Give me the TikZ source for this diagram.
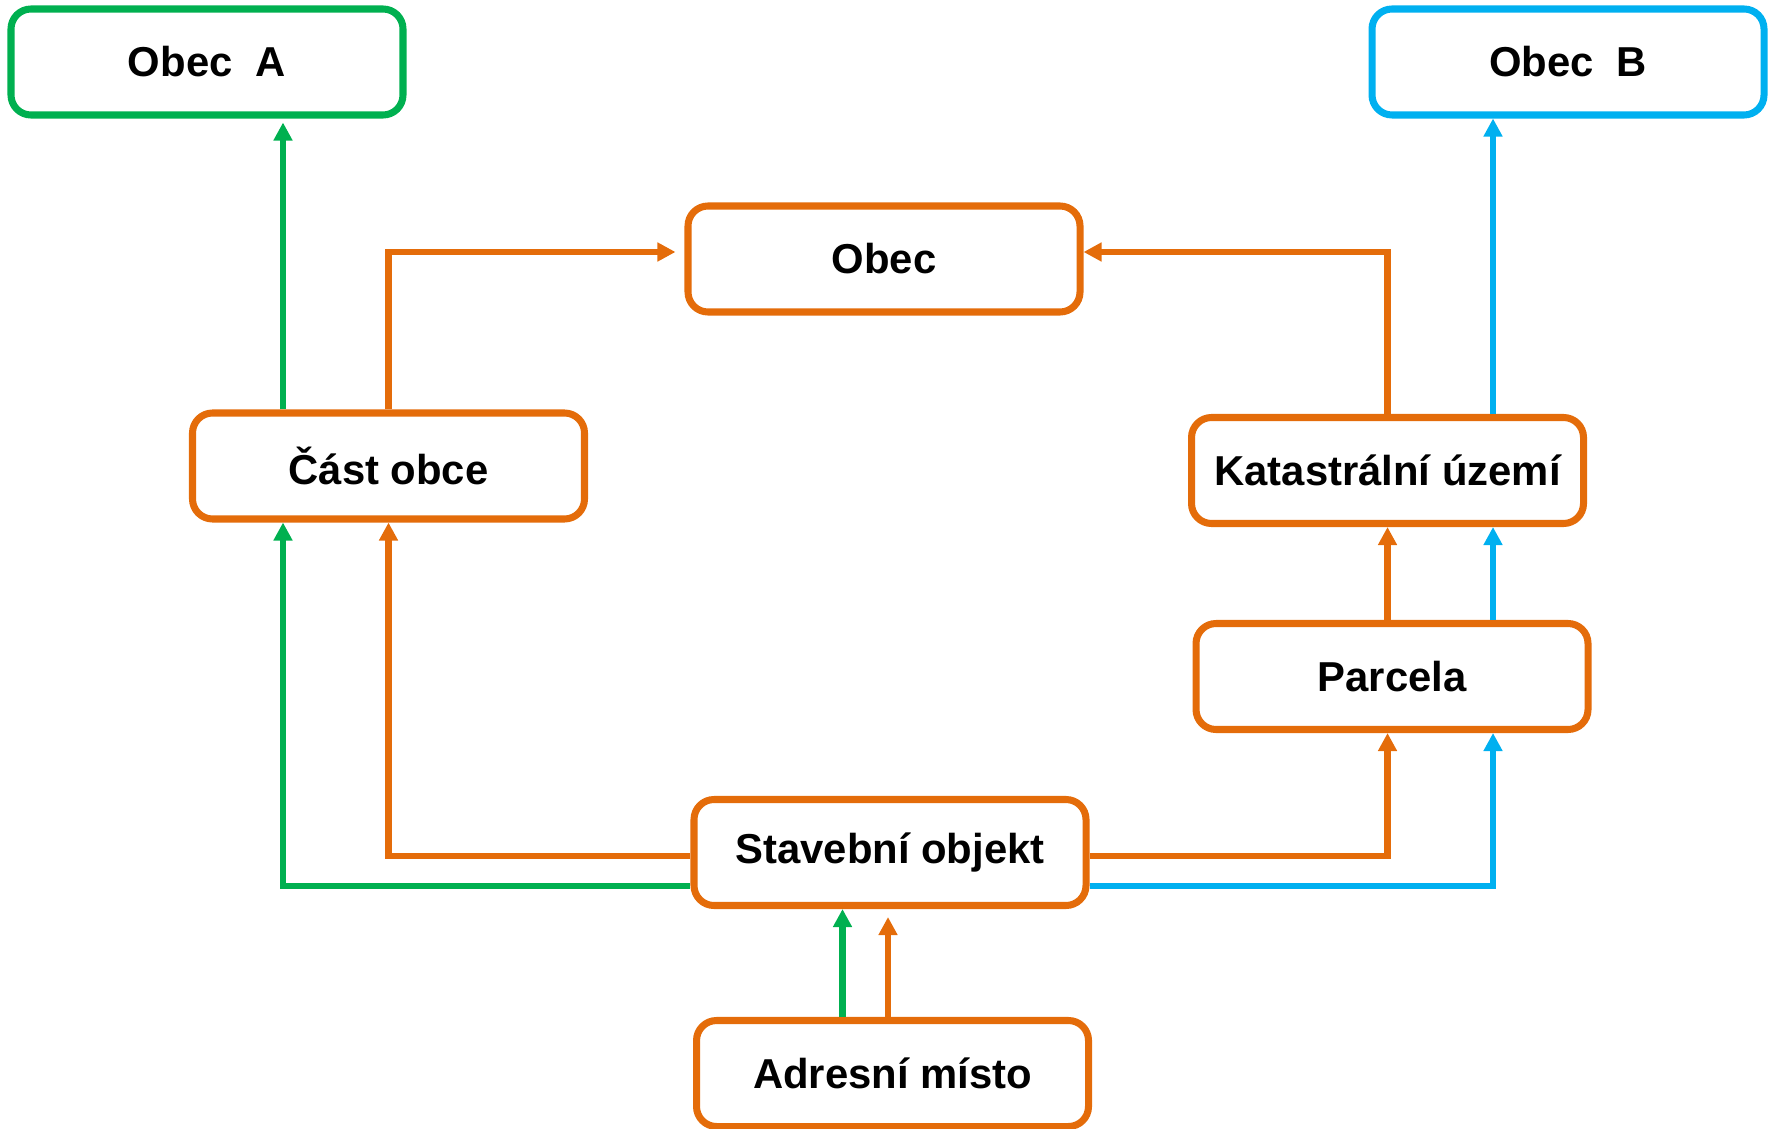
\documentclass[tikz,border=0pt]{standalone}
\usepackage{fontspec}
\setmainfont{Liberation Sans}
\usepackage{xcolor}
\usepackage{tikz}
\usetikzlibrary{calc,arrows.meta}
\definecolor{ruianorange}{HTML}{E46C0A}
\definecolor{ruiangreen}{HTML}{00B050}
\definecolor{ruianblue}{HTML}{00B0F0}
\tikzset{
  entity/.style={draw=ruianorange, line width=2pt, rounded corners=2mm, fill=white,
    minimum width=3.92cm, minimum height=1.06cm, inner sep=0pt,
    font=\fontsize{11.9}{14}\selectfont\bfseries},
  obecbox/.style={entity, draw=#1},
  link/.style={draw=#1, line width=1.75pt, -{Triangle[length=1.8mm,width=1.8mm]}},
}

\begin{document}
\begin{tikzpicture}
  \useasboundingbox (0,0) rectangle (17.85,11.28);

  \node[obecbox=ruiangreen] (obecA) at (2.07,10.66) {Obec\ \ A};
  \node[obecbox=ruianblue]  (obecB) at (15.68,10.66) {Obec\ \ B};
  \node[entity] (obec) at (8.84,8.69) {Obec};
  \node[entity] (cast) at (3.885,6.62) {Část obce};
  \node[entity] (kat)  at (13.875,6.575) {Katastrální území};
  \node[entity] (parc) at (13.92,4.515) {Parcela};
  \node[entity] (stav) at (8.90,2.755) {Stavební objekt};
  \node[entity] (adr)  at (8.925,0.545) {Adresní místo};

  % bus lines
  \coordinate (busG) at (2.83,2.42);
  \coordinate (busB) at (14.93,2.42);
  \coordinate (busO) at (0,2.72);
  \coordinate (busT) at (0,8.76);

  % to obec
  \draw[link=ruianorange, shorten >=0.9mm] (cast.north) |- (obec.west |- busT);
  \draw[link=ruianorange] (kat.north) |- (obec.east |- busT);

  % to obec A / obec B
  \draw[link=ruiangreen, shorten >=0.4mm] (cast.north -| busG) -- (obecA.south -| busG);
  \draw[link=ruianblue] (kat.north -| busB) -- (obecB.south -| busB);

  % from stavebni objekt
  \draw[link=ruiangreen] (stav.west |- busG) -| (cast.south -| busG);
  \draw[link=ruianorange] (stav.west |- busO) -| (cast.south);
  \draw[link=ruianorange] (stav.east |- busO) -| (parc.south -| kat.south);
  \draw[link=ruianblue] (stav.east |- busB) -| (parc.south -| busB);

  % parcela
  \draw[link=ruianorange] (parc.north -| kat.south) -- (kat.south);
  \draw[link=ruianblue] (parc.north -| busB) -- (kat.south -| busB);

  % adresni misto
  \draw[link=ruiangreen] ([xshift=-5mm]adr.north) -- ([xshift=-5mm]adr.north |- stav.south);
  \draw[link=ruianorange, shorten >=0.8mm] ([xshift=-0.45mm]adr.north) -- ([xshift=-0.45mm]adr.north |- stav.south);
\end{tikzpicture}
\end{document}
